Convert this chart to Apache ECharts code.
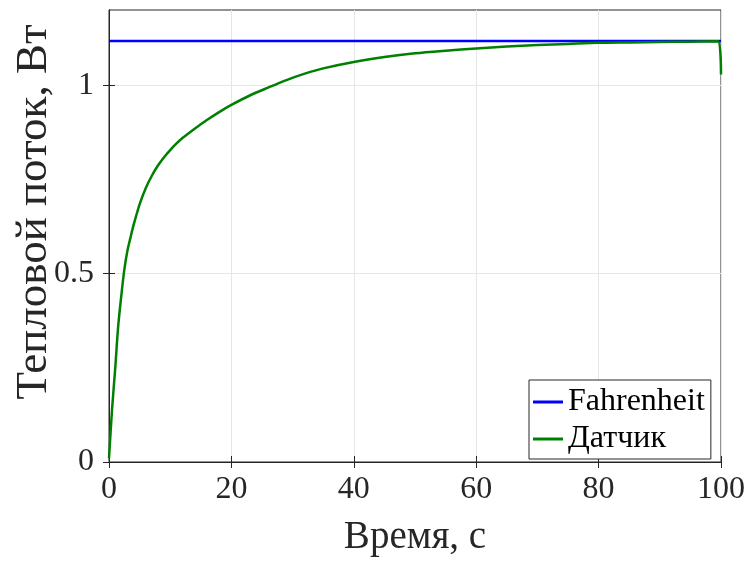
<!DOCTYPE html>
<html>
<head>
<meta charset="utf-8">
<script src="https://cdn.jsdelivr.net/npm/echarts@6/dist/echarts.min.js"></script>
<style>
  html, body { margin: 0; padding: 0; background: #fff; }
  #chart { width: 752px; height: 563px; }
</style>
</head>
<body>
<div id="chart"></div>
<script>
// Time samples, s
const timeSec = [0, 0.5, 1, 1.5, 2, 2.5, 3, 3.5, 4, 5, 6, 7, 8, 9, 10, 11, 12, 14, 16, 18, 20,
  23, 26, 29, 32, 35, 40, 45, 50, 55, 60, 65, 70, 75, 80, 85, 90, 95, 99.5, 100];
// Sensor heat flux, W
const sensorFlux = [0.01, 0.14, 0.245, 0.36, 0.44, 0.51, 0.56, 0.595, 0.628, 0.684, 0.727, 0.760,
  0.787, 0.809, 0.828, 0.845, 0.860, 0.885, 0.908, 0.929, 0.948, 0.973, 0.994, 1.014, 1.031, 1.045,
  1.062, 1.075, 1.085, 1.092, 1.098, 1.103, 1.107, 1.110, 1.113, 1.114, 1.115, 1.116, 1.117, 1.029];
// Reference (Fahrenheit) heat flux, W — constant level
const refTime = [0, 100];
const refFlux = [1.118, 1.118];

const seriesNames = ['Fahrenheit', 'Датчик'];
const xTicks = [0, 20, 40, 60, 80, 100];
const yTicks = [0, 0.5, 1];

const FONT = 'Liberation Serif';
const INK = '#262626';

const chart = echarts.init(document.getElementById('chart'), null, { renderer: 'canvas' });

const pair = (xs, ys) => xs.map((x, i) => [x, ys[i]]);

const tickStyle = { show: true, inside: true, length: 6, lineStyle: { color: INK, width: 1 } };
const gridStyle = { show: true, lineStyle: { color: '#e6e6e6', width: 1 } };

chart.setOption({
  animation: false,
  backgroundColor: '#fff',
  grid: {
    left: 109, right: 31, top: 10, bottom: 101,
    outerBoundsMode: 'none', containLabel: false,
    show: true, borderColor: INK, borderWidth: 1, backgroundColor: 'transparent'
  },
  legend: {
    orient: 'vertical',
    left: 529, top: 380,
    padding: [6, 6, 4, 4],
    itemGap: 5,
    itemWidth: 30,
    itemHeight: 3,
    icon: 'rect',
    backgroundColor: '#fff',
    borderColor: INK,
    borderWidth: 1,
    textStyle: { fontFamily: FONT, fontSize: 32, color: '#000' },
    data: seriesNames
  },
  xAxis: [{
    type: 'value', min: 0, max: 100, interval: 20,
    name: 'Время, с', nameLocation: 'middle', nameGap: 56, nameMoveOverlap: false,
    nameTextStyle: { fontFamily: FONT, fontSize: 39, color: INK },
    axisLine: { show: true, lineStyle: { color: INK, width: 1 } },
    axisTick: Object.assign({ customValues: xTicks }, tickStyle),
    axisLabel: { fontFamily: FONT, fontSize: 32, color: INK, margin: 12, customValues: xTicks },
    splitLine: gridStyle
  }, {
    type: 'value', position: 'top', min: 0, max: 100, interval: 20,
    axisLine: { show: true, lineStyle: { color: INK } },
    axisTick: Object.assign({ customValues: xTicks }, tickStyle),
    axisLabel: { show: false }, splitLine: { show: false }
  }],
  yAxis: [{
    type: 'value', min: 0, max: 1.2, interval: 0.5,
    name: 'Тепловой поток, Вт', nameLocation: 'middle', nameGap: 52, nameMoveOverlap: false,
    nameTextStyle: { fontFamily: FONT, fontSize: 45, color: INK, padding: [0, 0, 0, 48] },
    axisLine: { show: true, lineStyle: { color: INK, width: 1 } },
    axisTick: Object.assign({ customValues: yTicks }, tickStyle),
    axisLabel: { fontFamily: FONT, fontSize: 32, color: INK, margin: 15, customValues: yTicks },
    splitLine: gridStyle
  }, {
    type: 'value', position: 'right', min: 0, max: 1.2, interval: 0.5,
    axisLine: { show: true, lineStyle: { color: INK } },
    axisTick: Object.assign({ customValues: yTicks }, tickStyle),
    axisLabel: { show: false }, splitLine: { show: false }
  }],
  series: [{
    name: seriesNames[0], type: 'line', showSymbol: false,
    itemStyle: { color: '#0000ff' },
    lineStyle: { color: '#0000ff', width: 2.5 },
    data: pair(refTime, refFlux)
  }, {
    name: seriesNames[1], type: 'line', showSymbol: false, smooth: 0.3,
    itemStyle: { color: '#008000' },
    lineStyle: { color: '#008000', width: 2.5 },
    data: pair(timeSec, sensorFlux)
  }]
});
</script>
</body>
</html>
